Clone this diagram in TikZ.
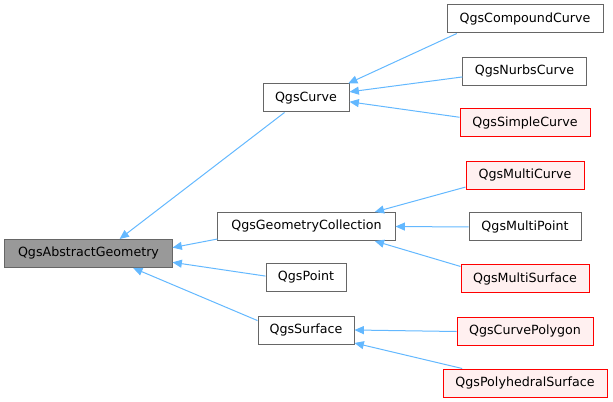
\documentclass[tikz,border=0pt]{standalone}
\usepackage{fontspec}
\setmainfont{DejaVu Sans}
\usetikzlibrary{arrows.meta, positioning}
\definecolor{edgeblue}{HTML}{63B8FF}
\definecolor{boxgray}{HTML}{666666}
\definecolor{rootfill}{HTML}{999999}
\definecolor{redfill}{HTML}{FFF0F0}
\begin{document}
\begin{tikzpicture}[x=0.75pt, y=-0.75pt, font=\fontsize{9.5}{11}\selectfont,
    cls/.style={draw=boxgray, line width=0.75pt, fill=white, inner xsep=0pt, minimum height=21pt},
    missing/.style={cls, draw=red, fill=redfill},
    inh/.style={<-, >={Triangle[length=7pt, width=6pt]}, draw=edgeblue, line width=0.75pt}]
  \useasboundingbox (0,0) rectangle (613,402);
  % base class
  \node[cls, fill=rootfill, minimum width=125.3pt] (abs) at (88.5,253.5) {QgsAbstractGeometry};
  % middle level
  \node[cls, minimum width=64.5pt] (curve) at (306,98) {QgsCurve};
  \node[cls, minimum width=132.8pt] (gc) at (306.5,226.5) {QgsGeometryCollection};
  \node[cls, minimum width=60pt] (point) at (306,277.5) {QgsPoint};
  \node[cls, minimum width=72pt] (surface) at (306,330) {QgsSurface};
  % leaves
  \node[cls, minimum width=117pt] (compound) at (525,19) {QgsCompoundCurve};
  \node[cls, minimum width=92.3pt] (nurbs) at (524.5,71.5) {QgsNurbsCurve};
  \node[missing, minimum width=97.5pt] (simple) at (525,123) {QgsSimpleCurve};
  \node[missing, minimum width=88.5pt] (multicurve) at (525,175.5) {QgsMultiCurve};
  \node[cls, minimum width=84pt] (multipoint) at (525,227) {QgsMultiPoint};
  \node[missing, minimum width=96pt] (multisurface) at (525,279) {QgsMultiSurface};
  \node[missing, minimum width=102pt] (curvepoly) at (525,331.5) {QgsCurvePolygon};
  \node[missing, minimum width=123pt] (polysurf) at (525,383) {QgsPolyhedralSurface};

  \draw[inh] (abs.25) -- (curve.214);
  \draw[inh] (abs.4) -- (gc.188);
  \draw[inh] (abs.-6) -- (point.178);
  \draw[inh] (abs.-18) -- (surface.169);
  \draw[inh] (curve.19) -- (compound.192);
  \draw[inh] (curve.8) -- (nurbs.185);
  \draw[inh] (curve.-5) -- (simple.175);
  \draw[inh] (gc.12) -- (multicurve.191);
  \draw[inh] (gc.east) -- (multipoint.west);
  \draw[inh] (gc.-12) -- (multisurface.169);
  \draw[inh] (surface.east) -- (curvepoly.west);
  \draw[inh] (surface.-15) -- (polysurf.167);
\end{tikzpicture}
\end{document}
